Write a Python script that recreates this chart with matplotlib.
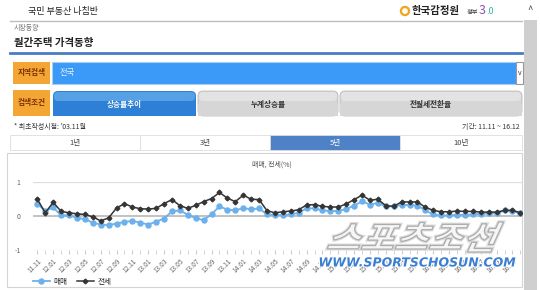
import matplotlib
matplotlib.use("Agg")
import matplotlib.pyplot as plt
import matplotlib.patheffects as pe
from matplotlib.patches import Rectangle, Circle, FancyBboxPatch, PathPatch
from matplotlib.textpath import TextPath
from matplotlib.font_manager import FontProperties
from matplotlib.transforms import Affine2D

plt.rcParams['font.family'] = ['Noto Sans CJK KR', 'DejaVu Sans']

# 월별 상승률 (%), 2011.11 ~ 2016.12
months = [f"{y % 100:02d}.{m:02d}" for y in range(2011, 2017) for m in range(1, 13)
          if (y, m) >= (2011, 11)]
sale = [0.37, 0.15, 0.26, 0.02, 0.02, -0.05, -0.09, -0.19, -0.25, -0.26,
        -0.22, -0.17, -0.14, -0.19, -0.25, -0.16, -0.07, 0.14, 0.17, 0.04,
        -0.06, -0.12, 0.06, 0.29, 0.19, 0.17, 0.24, 0.20, 0.23, 0.05,
        0.03, 0.03, 0.05, 0.10, 0.23, 0.23, 0.17, 0.15, 0.15, 0.21,
        0.31, 0.44, 0.34, 0.39, 0.29, 0.29, 0.33, 0.33, 0.31, 0.17,
        0.05, 0.02, 0.02, 0.04, 0.04, 0.05, 0.07, 0.08, 0.08, 0.17,
        0.15, 0.08]
jeonse = [0.50, 0.10, 0.41, 0.14, 0.10, 0.07, 0.05, -0.02, -0.14, -0.05,
          0.24, 0.37, 0.27, 0.22, 0.21, 0.23, 0.37, 0.49, 0.31, 0.23,
          0.32, 0.43, 0.52, 0.70, 0.53, 0.43, 0.62, 0.50, 0.49, 0.16,
          0.10, 0.13, 0.15, 0.19, 0.33, 0.34, 0.29, 0.27, 0.27, 0.36,
          0.49, 0.62, 0.47, 0.50, 0.31, 0.29, 0.42, 0.42, 0.42, 0.26,
          0.17, 0.13, 0.13, 0.15, 0.14, 0.14, 0.12, 0.12, 0.12, 0.17,
          0.17, 0.10]
tabs = ["상승률추이", "누계상승률", "전월세전환율"]
periods = ["1년", "3년", "5년", "10년"]

W, H = 540, 290
fig = plt.figure(figsize=(W / 100, H / 100), dpi=100)

# 페이지 배경 (픽셀 좌표, 위에서 아래로)
bg = fig.add_axes([0, 0, 1, 1])
bg.set_xlim(0, W)
bg.set_ylim(H, 0)
bg.axis("off")


def box(x0, y0, x1, y1, fc, ec="none", lw=0.8, z=1):
    bg.add_patch(Rectangle((x0, y0), x1 - x0, y1 - y0, facecolor=fc,
                           edgecolor=ec, linewidth=lw, zorder=z))


# 상단 헤더
bg.text(28, 11, "국민 부동산 나침반", fontsize=6.5, va="center", color="#222")
bg.add_patch(Circle((405, 11), 4.5, color="#f3a41c", zorder=2))
bg.add_patch(Circle((405, 11), 2.2, color="white", zorder=3))
bg.text(412, 11, "한국감정원", fontsize=7.5, fontweight="bold", va="center", color="#222")
bg.text(467, 12, "정부", fontsize=4.5, va="center", color="#333")
bg.text(479, 11, "3", fontsize=9, va="center", color="#8e4fb6")
bg.text(486, 12, ".0", fontsize=6.5, va="center", color="#3bb0a2")
box(524, 20, 537, 290, "#cfcfcf")
bg.text(530, 10, "^", fontsize=7, ha="center", va="center", color="#444")
bg.plot([10, 522], [21, 21], color="#bdbdbd", lw=1)

bg.text(14, 28, "시장동향", fontsize=5, va="center", color="#777")
bg.text(14, 43, "월간주택 가격동향", fontsize=7.5, fontweight="bold", va="center", color="#222")
bg.plot([10, 522], [53, 53], color="#4a7cc6", lw=2)

# 검색 영역
box(13, 62, 50, 84, "#f4a634")
bg.text(31.5, 73, "지역검색", fontsize=5.5, fontweight="bold", ha="center", va="center", color="#7a2e00")
box(52, 62, 516, 84, "#3b9af7", ec="#a6cdf2")
bg.text(60, 73, "전국", fontsize=6, va="center", color="#e4f1ff")
box(516, 62, 523, 84, "white", ec="#999")
bg.text(519.5, 73, "v", fontsize=5, ha="center", va="center", color="#333")

box(13, 90, 50, 116, "#f4a634")
bg.text(31.5, 103, "검색조건", fontsize=5.5, fontweight="bold", ha="center", va="center", color="#7a2e00")
tab_x = [(53, 196), (198, 338), (340, 522)]
for i, (name, (x0, x1)) in enumerate(zip(tabs, tab_x)):
    fc = "#2d80d6" if i == 0 else "#d6d6d6"
    bg.add_patch(FancyBboxPatch((x0, 91), x1 - x0, 25, boxstyle="round,pad=0,rounding_size=5",
                                facecolor=fc, edgecolor="#bbbbbb" if i else "none", lw=0.6))
    box(x0, 104, x1, 116, fc)
    top = "#72b6f0" if i == 0 else "#ececec"
    bg.add_patch(FancyBboxPatch((x0 + 1, 92), x1 - x0 - 2, 9, boxstyle="round,pad=0,rounding_size=4",
                                facecolor=top, edgecolor="none", alpha=0.6))
    bg.text((x0 + x1) / 2, 104, name, fontsize=5.5, fontweight="bold", ha="center", va="center",
            color="white" if i == 0 else "#333")

bg.text(14, 127, "* 최초작성시점: '03.11월", fontsize=5, va="center", color="#333")
bg.text(520, 127, "기간: 11.11 ~ 16.12", fontsize=5, ha="right", va="center", color="#333")

# 기간 선택
cell_x = [10, 140, 270, 400, 522]
for i, p in enumerate(periods):
    on = p == "5년"
    box(cell_x[i], 135, cell_x[i + 1], 150, "#4f81c6" if on else "white", ec="#dddddd", lw=0.6)
    bg.text((cell_x[i] + cell_x[i + 1]) / 2, 142.5, p, fontsize=5.5, ha="center", va="center",
            color="white" if on else "#444")

# 차트 박스
box(7, 153, 522, 287, "white", ec="#d4d4d4", lw=0.8)
bg.text(272, 165, "매매, 전세(%)", fontsize=5, ha="center", va="center", color="#555")

# 차트
px0, px1, py0, py1 = 33, 522, 182.3, 250
ax = fig.add_axes([px0 / W, 1 - py1 / H, (px1 - px0) / W, (py1 - py0) / H])
ax.set_facecolor("none")
x = list(range(len(months)))
ax.plot(x, sale, color="#6cb0ec", lw=1.3, marker="o", ms=3.6, mec="#6cb0ec", zorder=3, label="매매")
ax.plot(x, jeonse, color="#353535", lw=1.1, marker="D", ms=2.4, zorder=4, label="전세")
ax.set_xlim(-0.55, 61.2)
ax.set_ylim(-1, 1)
ax.set_yticks([-1, 0, 1])
ax.set_yticklabels(["-1", "0", "1"])
ax.set_xticks(x[::2])
ax.set_xticklabels(months[::2], rotation=45, ha="right", rotation_mode="anchor")
ax.set_xticks(x[1::2], minor=True)
ax.tick_params(axis="y", length=0, pad=9, labelsize=5, labelcolor="#666")
ax.tick_params(axis="x", which="both", length=3, color="#cccccc", labelsize=4.8,
               labelcolor="#666", pad=2)
for s in ax.spines.values():
    s.set_visible(False)
for v in (1, -1):
    ax.axhline(v, color="#dedede", lw=0.9, zorder=1)
ax.axhline(0, color="#b8b8b8", lw=1.2, zorder=1)

fig.legend(loc="center left", bbox_to_anchor=(30 / W, 1 - 282 / H), ncol=2, frameon=False,
           fontsize=5.5, handlelength=2.2, columnspacing=1.2, handletextpad=0.5,
           borderaxespad=0, labelcolor="#222")

# 워터마크 (기울인 글자)
top = fig.add_axes([0, 0, 1, 1], zorder=10)
top.set_xlim(0, W)
top.set_ylim(H, 0)
top.axis("off")
tp = TextPath((0, 0), "스포츠조선", size=30,
              prop=FontProperties(family="Noto Sans CJK KR", weight="bold"))
ext = tp.get_extents()
sx = 165 / ext.width
sy = 30 / ext.height
tr = (Affine2D().translate(-ext.x0 - ext.width / 2, -ext.y0 - ext.height / 2)
      .skew_deg(22, 0).scale(sx, -sy).translate(415, 237))
top.add_patch(PathPatch(tr.transform_path(tp), facecolor="#f7f7f7", edgecolor="#a8a8a8",
                        lw=0.9, alpha=0.95,
                        path_effects=[pe.withStroke(linewidth=2.5, foreground="#dcdcdc")]))
top.text(417, 263, "WWW.SPORTSCHOSUN.COM", family="DejaVu Sans", fontsize=9,
         fontweight="bold", style="italic", ha="center", va="center", color="#3a7fd2",
         path_effects=[pe.withStroke(linewidth=1.5, foreground="white")])

fig.savefig("out.png", dpi=100)
